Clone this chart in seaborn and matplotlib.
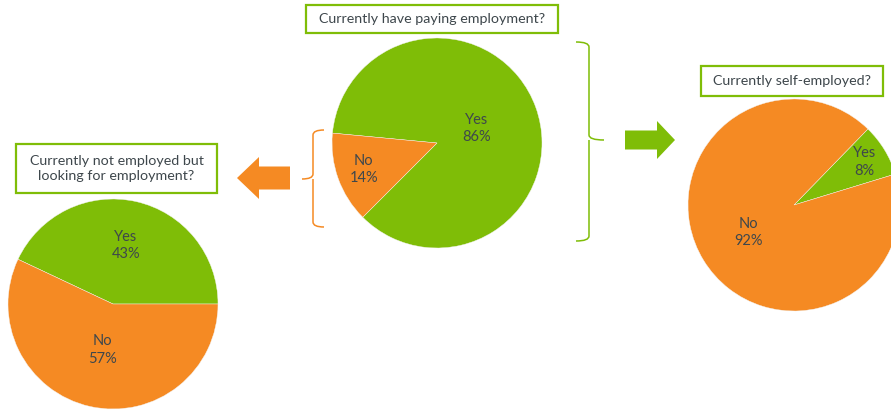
import numpy as np
import matplotlib
matplotlib.use("Agg")
import matplotlib.pyplot as plt
import seaborn as sns
from matplotlib.patches import Rectangle, FancyArrow, PathPatch
from matplotlib.path import Path

## Data
answers = ["Yes", "No"]
paying_employment = [86, 14]
self_employed = [8, 92]
looking_for_work = [43, 57]

titles = ["Currently have paying employment?",
          "Currently self-employed?",
          "Currently not employed but\nlooking for employment?"]

GREEN = "#7fbd07"
ORANGE = "#f58a23"
TEXT = "#3e474c"

sns.set_theme(style="white")
plt.rcParams['font.family'] = ['Lato', 'DejaVu Sans']

W, H = 891, 411
fig = plt.figure(figsize=(W / 100, H / 100), dpi=100)


def px_axes(cx, cy, r):
    """Square axes centred on a pixel position (y measured from top)."""
    return fig.add_axes([(cx - r) / W, (H - cy - r) / H, 2 * r / W, 2 * r / H])


def draw_pie(ax, values, startangle, label_dist):
    wedges, _ = ax.pie(values, colors=[GREEN, ORANGE], startangle=startangle,
                       counterclock=True, radius=1,
                       wedgeprops=dict(linewidth=0.3, edgecolor="#f4f4f4"))
    for w, lab, v, d in zip(wedges, answers, values, label_dist):
        mid = np.deg2rad((w.theta1 + w.theta2) / 2)
        ax.text(d * np.cos(mid), d * np.sin(mid), f"{lab}\n{v}%",
                ha="center", va="center", fontsize=10.5, color=TEXT,
                linespacing=1.3)
    ax.set_xlim(-1, 1)
    ax.set_ylim(-1, 1)
    ax.set_aspect("auto")
    ax.axis("off")


draw_pie(px_axes(437, 143, 105), paying_employment, 225, [0.40, 0.74])
draw_pie(px_axes(794, 205, 106), self_employed, 17, [0.78, 0.50])
draw_pie(px_axes(113, 304, 105), looking_for_work, 0, [0.57, 0.45])

# overlay in pixel space for boxes, arrows, braces
ov = fig.add_axes([0, 0, 1, 1])
ov.set_xlim(0, W)
ov.set_ylim(H, 0)
ov.axis("off")
ov.patch.set_alpha(0)


def title_box(x0, y0, x1, y1, text):
    ov.add_patch(Rectangle((x0, y0), x1 - x0, y1 - y0, fill=False,
                           edgecolor=GREEN, linewidth=1.6))
    ov.text((x0 + x1) / 2, (y0 + y1) / 2, text, ha="center", va="center",
            fontsize=10.3, color=TEXT, linespacing=1.25)


title_box(306, 5, 558, 33, titles[0])
title_box(701, 66, 883, 96, titles[1])
title_box(16, 144, 217, 193, titles[2])


def brace(x_arm, x_spine, x_tip, y_top, y_bot, y_mid, color):
    c = 5
    verts = [(x_arm, y_top), (x_spine, y_top), (x_spine, y_top + c),
             (x_spine, y_mid - c), (x_spine, y_mid), (x_tip, y_mid),
             (x_spine, y_mid), (x_spine, y_mid + c),
             (x_spine, y_bot - c), (x_spine, y_bot), (x_arm, y_bot)]
    codes = [Path.MOVETO, Path.CURVE3, Path.CURVE3,
             Path.LINETO, Path.CURVE3, Path.CURVE3,
             Path.MOVETO, Path.LINETO,
             Path.LINETO, Path.CURVE3, Path.CURVE3]
    ov.add_patch(PathPatch(Path(verts, codes), fill=False, edgecolor=color,
                           linewidth=1.1))


brace(576, 589, 604, 42, 241, 140, GREEN)
brace(324, 313, 302, 130, 227, 179, ORANGE)

ov.add_patch(FancyArrow(625, 140, 50, 0, width=19, head_width=38,
                        head_length=18, length_includes_head=True,
                        color=GREEN, linewidth=0))
ov.add_patch(FancyArrow(290, 178, -53, 0, width=23, head_width=42,
                        head_length=22, length_includes_head=True,
                        color=ORANGE, linewidth=0))

fig.savefig("out.png", dpi=100)
